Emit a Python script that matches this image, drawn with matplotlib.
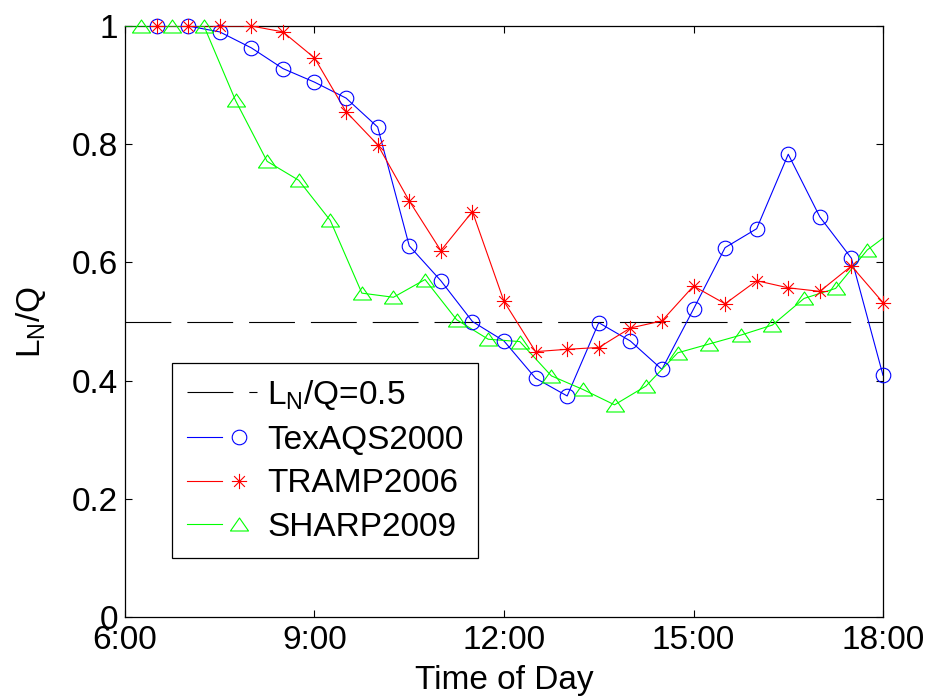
import matplotlib
matplotlib.use("Agg")
import matplotlib.pyplot as plt
from matplotlib.path import Path
from matplotlib.legend_handler import HandlerTuple
import numpy as np

plt.rcParams['font.family'] = ['Liberation Sans', 'DejaVu Sans']
plt.rcParams['mathtext.fontset'] = 'custom'
plt.rcParams['mathtext.rm'] = 'Liberation Sans'
plt.rcParams['mathtext.it'] = 'Liberation Sans:italic'
plt.rcParams['lines.scale_dashes'] = False

# ---------------- data ----------------
tex_hours = [6.5, 7, 7.5, 8, 8.5, 9, 9.5, 10, 10.5, 11, 11.5, 12, 12.5, 13, 13.5,
             14, 14.5, 15, 15.5, 16, 16.5, 17, 17.5, 18]
tex_vals = [1.0, 1.0, 0.99, 0.963, 0.928, 0.905, 0.878, 0.829, 0.628, 0.569, 0.50,
            0.467, 0.404, 0.374, 0.498, 0.467, 0.419, 0.521, 0.625, 0.657, 0.783,
            0.677, 0.607, 0.409]

tramp_hours = [6.5, 7, 7.5, 8, 8.5, 9, 9.5, 10, 10.5, 11, 11.5, 12, 12.5, 13, 13.5,
               14, 14.5, 15, 15.5, 16, 16.5, 17, 17.5, 18]
tramp_vals = [1.0, 1.0, 1.0, 1.0, 0.99, 0.946, 0.855, 0.799, 0.704, 0.620, 0.686,
              0.534, 0.449, 0.453, 0.456, 0.489, 0.501, 0.560, 0.530, 0.569, 0.557,
              0.551, 0.594, 0.532]

sharp_hours = [5.75, 6.25, 6.75, 7.25, 7.75, 8.25, 8.75, 9.25, 9.75, 10.25, 10.75,
               11.25, 11.75, 12.25, 12.75, 13.25, 13.75, 14.25, 14.75, 15.25, 15.75,
               16.25, 16.75, 17.25, 17.75, 18.25]
sharp_vals = [1.0, 1.0, 1.0, 1.0, 0.874, 0.771, 0.739, 0.671, 0.548, 0.541, 0.571,
              0.503, 0.470, 0.466, 0.408, 0.385, 0.359, 0.391, 0.447, 0.462, 0.477,
              0.494, 0.539, 0.556, 0.621, 0.661]

ref_hours = [6, 18]
ref_vals = [0.5, 0.5]

x_ticks = [6, 9, 12, 15, 18]
x_ticklabels = ['6:00', '9:00', '12:00', '15:00', '18:00']
y_ticks = [0, 0.2, 0.4, 0.6, 0.8, 1.0]
y_ticklabels = ['0', '0.2', '0.4', '0.6', '0.8', '1']

labels = [r'L$_\mathrm{N}$/Q=0.5', 'TexAQS2000', 'TRAMP2006', 'SHARP2009']

# ---------------- markers ----------------
star = Path([(-1, 0), (1, 0), (0, -1), (0, 1),
             (-0.707, -0.707), (0.707, 0.707), (-0.707, 0.707), (0.707, -0.707)],
            [Path.MOVETO, Path.LINETO] * 4)
tri = Path([(-1, -0.72), (1, -0.72), (0, 0.72), (-1, -0.72)],
           [Path.MOVETO, Path.LINETO, Path.LINETO, Path.CLOSEPOLY])

FS = 24
fig = plt.figure(figsize=(9.28, 6.96), dpi=100)
ax = fig.add_axes([125 / 928, 1 - 617 / 696, 758 / 928, 591 / 696])

lw = 0.8
ref_line, = ax.plot(ref_hours, ref_vals, color='black', lw=lw,
                    linestyle=(0, (33, 11.5)), zorder=3)


def series(xs, ys, color, marker, ms):
    xs = np.asarray(xs, float)
    ys = np.asarray(ys, float)
    ln, = ax.plot(xs, ys, color=color, lw=lw, zorder=3)
    inside = (xs >= 6) & (xs <= 18)
    mk, = ax.plot(xs[inside], ys[inside], linestyle='none', marker=marker, ms=ms,
                  mfc='none', mec=color, mew=lw, clip_on=False, zorder=4)
    return ln, mk


tex = series(tex_hours, tex_vals, (0, 0, 1), 'o', 10.5)
tramp = series(tramp_hours, tramp_vals, (1, 0, 0), star, 11)
sharp = series(sharp_hours, sharp_vals, (0, 1, 0), tri, 13)

ax.set_xlim(6, 18)
ax.set_ylim(0, 1)
ax.set_xticks(x_ticks)
ax.set_xticklabels(x_ticklabels)
ax.set_yticks(y_ticks)
ax.set_yticklabels(y_ticklabels)
ax.tick_params(direction='in', length=5, width=0.8, labelsize=FS,
               top=True, right=True)
ax.tick_params(axis='x', pad=6)
ax.tick_params(axis='y', pad=5)
for s in ax.spines.values():
    s.set_linewidth(0.9)

ax.set_xlabel('Time of Day', fontsize=FS, labelpad=6.5)
ax.set_ylabel(r'L$_\mathrm{N}$/Q', fontsize=FS, labelpad=17)

leg = ax.legend([ref_line, tex, tramp, sharp], labels,
                handler_map={tuple: HandlerTuple(ndivide=None, pad=0)},
                loc='upper left', bbox_to_anchor=(0.062, 0.43),
                borderaxespad=0, fontsize=FS, frameon=True, fancybox=False,
                framealpha=1, edgecolor='black', handlelength=2.1,
                handletextpad=0.3, labelspacing=0.38, borderpad=0.45)
leg.get_frame().set_linewidth(0.9)

fig.savefig('out.png', dpi=100)
